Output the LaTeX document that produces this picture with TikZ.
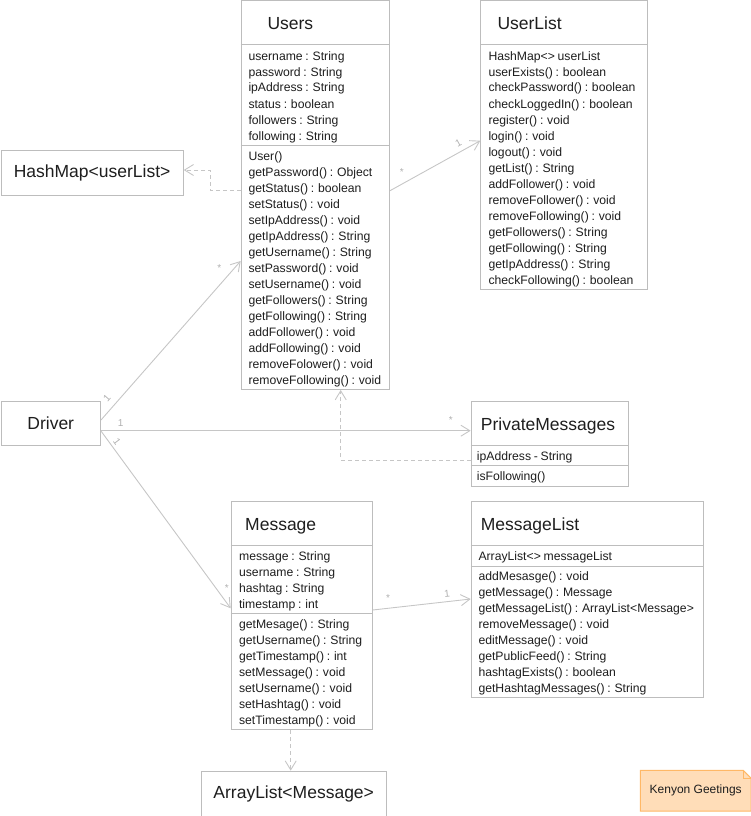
\documentclass[tikz,border=0pt]{standalone}
\usepackage{fontspec}
\setmainfont{Liberation Sans}
\newfontfamily\memfont{Liberation Sans}[WordSpace=0.8]
\usetikzlibrary{arrows.meta,calc}
\definecolor{bordergray}{HTML}{BDBDBD}
\definecolor{linegray}{HTML}{C6C6C6}
\definecolor{labelgray}{HTML}{B0B0B0}
\definecolor{txt}{HTML}{1E1E1E}
\definecolor{notefill}{HTML}{FFDDB8}
\definecolor{noteborder}{HTML}{FFB866}
\begin{document}
\begin{tikzpicture}[x=1pt,y=-1pt,
  box/.style={draw=bordergray, line width=1pt, fill=white, rectangle, inner sep=0pt, anchor=north west},
  sepline/.style={draw=bordergray, line width=1pt},
  ttl/.style={font=\fontsize{17.5}{20}\selectfont, text=txt, inner sep=0pt, anchor=base west},
  bigtxt/.style={font=\fontsize{17.5}{20}\selectfont, text=txt},
  mem/.style={font=\memfont\fontsize{12.2}{16}\selectfont, text=txt, inner sep=0pt, anchor=base west},
  assoc/.style={draw=linegray, line width=0.9pt, -{Straight Barb[length=9pt,width=11pt]}},
  dep/.style={draw=linegray, line width=0.9pt, dash pattern=on 4pt off 3pt, -{Straight Barb[length=9pt,width=11pt]}},
  mult/.style={font=\fontsize{10}{11}\selectfont, text=labelgray, inner sep=0pt}
]
\useasboundingbox (0,0) rectangle (751,816);

% ---------- boxes ----------
\node[box, minimum width=148.3pt, minimum height=388.5pt] (users) at (240.7,0.5) {};
\node[box, minimum width=166.4pt, minimum height=288.5pt] (userlist) at (480.3,0.5) {};
\node[box, minimum width=182.2pt, minimum height=45pt, bigtxt] (hashmap) at (0.5,150) {HashMap<userList>};
\node[box, minimum width=99.5pt, minimum height=44.3pt, bigtxt] (driver) at (0.5,400.7) {Driver};
\node[box, minimum width=157.6pt, minimum height=85pt] (pm) at (470.7,400.7) {};
\node[box, minimum width=141pt, minimum height=228.3pt] (message) at (230.7,500.7) {};
\node[box, minimum width=232.6pt, minimum height=196.6pt] (mlist) at (470.7,500.7) {};
\node[box, minimum width=185pt, minimum height=45pt, bigtxt] (alist) at (200.7,770.7) {ArrayList<Message>};

% separators
\draw[sepline] ($(users.north west)+(0,44.5)$) -- ($(users.north east)+(0,44.5)$);
\draw[sepline] ($(users.north west)+(0,144.8)$) -- ($(users.north east)+(0,144.8)$);
\draw[sepline] ($(userlist.north west)+(0,44.5)$) -- ($(userlist.north east)+(0,44.5)$);
\draw[sepline] ($(pm.north west)+(0,44.3)$) -- ($(pm.north east)+(0,44.3)$);
\draw[sepline] ($(pm.north west)+(0,65)$) -- ($(pm.north east)+(0,65)$);
\draw[sepline] ($(message.north west)+(0,44.3)$) -- ($(message.north east)+(0,44.3)$);
\draw[sepline] ($(message.north west)+(0,112.6)$) -- ($(message.north east)+(0,112.6)$);
\draw[sepline] ($(mlist.north west)+(0,44.3)$) -- ($(mlist.north east)+(0,44.3)$);
\draw[sepline] ($(mlist.north west)+(0,65.3)$) -- ($(mlist.north east)+(0,65.3)$);

% ---------- titles ----------
\node[ttl] (usersT) at (267.3,30) {Users};
\node[ttl] (userlistT) at (497.3,30) {UserList};
\node[ttl] (pmT) at (480.7,430) {PrivateMessages};
\node[ttl] (messageT) at (245,530) {Message};
\node[ttl] (mlistT) at (480.7,530) {MessageList};

% ---------- members ----------
\foreach \t [count=\i from 0] in {username : String, password : String, ipAddress : String, status : boolean, followers : String, following : String}
  \node[mem] (ua\i) at (248.3,60+16*\i) {\t};
\foreach \t [count=\i from 0] in {User(), getPassword() : Object, getStatus() : boolean, setStatus() : void, setIpAddress() : void, getIpAddress() : String, getUsername() : String, setPassword() : void, setUsername() : void, getFollowers() : String, getFollowing() : String, addFollower() : void, addFollowing() : void, removeFolower() : void, removeFollowing() : void}
  \node[mem] (um\i) at (248.3,160+16*\i) {\t};
\foreach \t [count=\i from 0] in {HashMap<> userList, userExists() : boolean, checkPassword() : boolean, checkLoggedIn() : boolean, register() : void, login() : void, logout() : void, getList() : String, addFollower() : void, removeFollower() : void, removeFollowing() : void, getFollowers() : String, getFollowing() : String, getIpAddress() : String, checkFollowing() : boolean}
  \node[mem] (ul\i) at (488.3,60+16*\i) {\t};
\node[mem] (pma) at (476.7,460.4) {ipAddress - String};
\node[mem] (pmm) at (476.7,480.4) {isFollowing()};
\foreach \t [count=\i from 0] in {message : String, username : String, hashtag : String, timestamp : int}
  \node[mem] (ma\i) at (238.9,560.1+16*\i) {\t};
\foreach \t [count=\i from 0] in {getMesage() : String, getUsername() : String, getTimestamp() : int, setMessage() : void, setUsername() : void, setHashtag() : void, setTimestamp() : void}
  \node[mem] (mm\i) at (238.9,628.4+16*\i) {\t};
\node[mem] (mla) at (478.3,560.1) {ArrayList<> messageList};
\foreach \t [count=\i from 0] in {addMesasge() : void, getMessage() : Message, getMessageList() : ArrayList<Message>, removeMessage() : void, editMessage() : void, getPublicFeed() : String, hashtagExists() : boolean, getHashtagMessages() : String}
  \node[mem] (mlm\i) at (478.3,580.1+16*\i) {\t};

% ---------- note ----------
\node[inner sep=0pt, minimum width=110.4pt, minimum height=40.4pt, anchor=north west] (note) at (640.3,770.3) {};
\filldraw[fill=notefill, draw=noteborder, line width=1pt]
  (note.north west) -- ($(note.north east)+(-8,0)$) -- ($(note.north east)+(0,8)$) -- (note.south east) -- (note.south west) -- cycle;
\draw[draw=noteborder, line width=0.8pt] ($(note.north east)+(-8,0)$) -- ($(note.north east)+(-8,8)$) -- ($(note.north east)+(0,8)$);
\node[font=\fontsize{12}{14}\selectfont, text=txt] (noteT) at (note.center) {Kenyon Geetings};

% ---------- connectors ----------
\draw[assoc] ($(users.north east)+(0,190.2)$) -- ($(userlist.north west)+(0,140.2)$);
\draw[dep] ($(users.north west)+(0,190.2)$) -- ++(-30,0) |- ($(hashmap.north east)+(0,20)$);
\draw[assoc] ($(driver.north east)+(0,19.3)$) -- ($(users.north west)+(0,260.5)$);
\draw[assoc] ($(driver.north east)+(0,30)$) -- ($(pm.north west)+(0,30)$);
\draw[assoc] ($(driver.north east)+(0,30.3)$) -- ($(message.north west)+(0,107.6)$);
\draw[assoc] ($(message.north east)+(0,109.3)$) -- ($(mlist.north west)+(0,98.3)$);
\draw[dep] ($(pm.north west)+(0,59.3)$) -| ($(users.south west)+(100,0)$);
\draw[dep] ($(message.south west)+(60,0)$) -- ($(alist.north west)+(90,0)$);

% ---------- multiplicities ----------
\node[mult] (m1) at (401.7,172.3) {*};
\node[mult, rotate=28.9] (m2) at (458.3,143.3) {1};
\node[mult, rotate=48.5] (m3) at (107,398) {1};
\node[mult] (m4) at (219.3,268.3) {*};
\node[mult] (m5) at (120.7,422.7) {1};
\node[mult] (m6) at (450.7,420) {*};
\node[mult, rotate=-53.6] (m7) at (117,441.7) {1};
\node[mult] (m8) at (226.7,588.3) {*};
\node[mult] (m9) at (388,598) {*};
\node[mult, rotate=6.3] (m10) at (447,594) {1};
\end{tikzpicture}
\end{document}
